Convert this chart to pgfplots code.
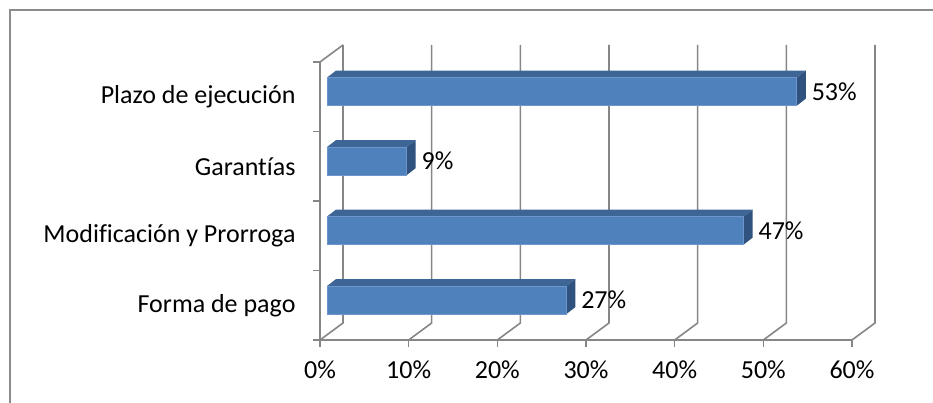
\documentclass[border=0pt]{standalone}
\usepackage{fontspec}
\setmainfont{Carlito}[Ligatures=NoCommon]
\usepackage{pgfplots}
\pgfplotsset{compat=1.18}
\definecolor{barfront}{RGB}{79,129,189}
\definecolor{bartop}{RGB}{61,102,150}
\definecolor{barside}{RGB}{47,82,127}
\definecolor{barline}{RGB}{110,150,205}
\definecolor{gridg}{RGB}{134,134,134}
\definecolor{frameg}{RGB}{140,140,140}
% 3D offsets in data units (x: 8.8667 px/unit, y: 69.5 px/unit)
\def\bx{0.778}   % bar front-face depth shift in x
\def\by{0.0734}  % bar front-face depth shift in y
\def\dx{1.015}   % bar depth in x
\def\dy{0.1007}  % bar depth in y
\def\wx{2.594}   % back wall shift in x
\def\wy{0.2446}  % back wall shift in y
\newcommand\barthreed[2]{% #1 = category index, #2 = value
  \pgfmathsetmacro\xa{\bx}%
  \pgfmathsetmacro\xb{#2+\bx}%
  \pgfmathsetmacro\ya{#1+0.5+\by-0.2014}%
  \pgfmathsetmacro\yb{#1+0.5+\by+0.2014}%
  \pgfmathsetmacro\xc{\xa+\dx}%
  \pgfmathsetmacro\xd{\xb+\dx}%
  \pgfmathsetmacro\yc{\ya+\dy}%
  \pgfmathsetmacro\yd{\yb+\dy}%
  \pgfmathsetmacro\ym{#1+0.5+\by}%
  \pgfmathsetmacro\xl{\xd+0.65}%
  \edef\temp{%
    \noexpand\addplot[fill=bartop,draw=none] coordinates {(\xa,\yb) (\xb,\yb) (\xd,\yd) (\xc,\yd)} -- cycle;
    \noexpand\addplot[fill=barside,draw=none] coordinates {(\xb,\ya) (\xd,\yc) (\xd,\yd) (\xb,\yb)} -- cycle;
    \noexpand\addplot[fill=barfront,draw=barline,line width=0.8pt] coordinates {(\xa,\ya) (\xb,\ya) (\xb,\yb) (\xa,\yb)} -- cycle;
    \noexpand\node[anchor=west,inner sep=0pt,font=\noexpand\fontsize{26}{31}\noexpand\selectfont] at (axis cs:\xl,\ym) {#2\noexpand\%};
  }\temp
}
\begin{document}
\begin{tikzpicture}
\useasboundingbox (0,0) rectangle (933pt,403pt);
\draw[frameg,line width=1.3pt] (10pt,-20pt) -- (10pt,393pt) -- (960pt,393pt);
\begin{axis}[
  at={(320pt,63pt)}, anchor=south west,
  scale only axis, width=532pt, height=278pt,
  xmin=0, xmax=60, ymin=0, ymax=4,
  clip=false,
  axis x line*=bottom, axis y line*=left,
  axis line style={gridg,line width=1.6pt,-},
  every tick/.style={gridg,line width=1.6pt},
  tick align=outside, major tick length=7pt,
  xtick={0,10,20,30,40,50,60},
  xticklabels={0\%,10\%,20\%,30\%,40\%,50\%,60\%},
  ytick={0,1,2,3,4}, yticklabels={},
  extra y ticks={0.5,1.5,2.5,3.5},
  extra y tick labels={Forma de pago,Modificación y Prorroga,Garantías,Plazo de ejecución\ },
  extra y tick style={major tick length=0pt},
  ticklabel style={font=\fontsize{26}{31}\selectfont},
  xticklabel style={yshift=-10pt},
  yticklabel style={xshift=-21pt},
  /pgf/number format/assume math mode=true,
]
% back wall and floor grid lines
\foreach \g in {0,10,20,30,40,50,60}{
  \edef\temp{\noexpand\draw[gridg,line width=1.6pt] (axis cs:\g,0) -- (axis cs:\g+\wx,\wy) -- (axis cs:\g+\wx,4+\wy);}\temp
}
\draw[gridg,line width=1.6pt] (axis cs:0,4) -- (axis cs:\wx,4+\wy);
% bars (index from bottom)
\barthreed{0}{27}
\barthreed{1}{47}
\barthreed{2}{9}
\barthreed{3}{53}
\end{axis}
\end{tikzpicture}
\end{document}
